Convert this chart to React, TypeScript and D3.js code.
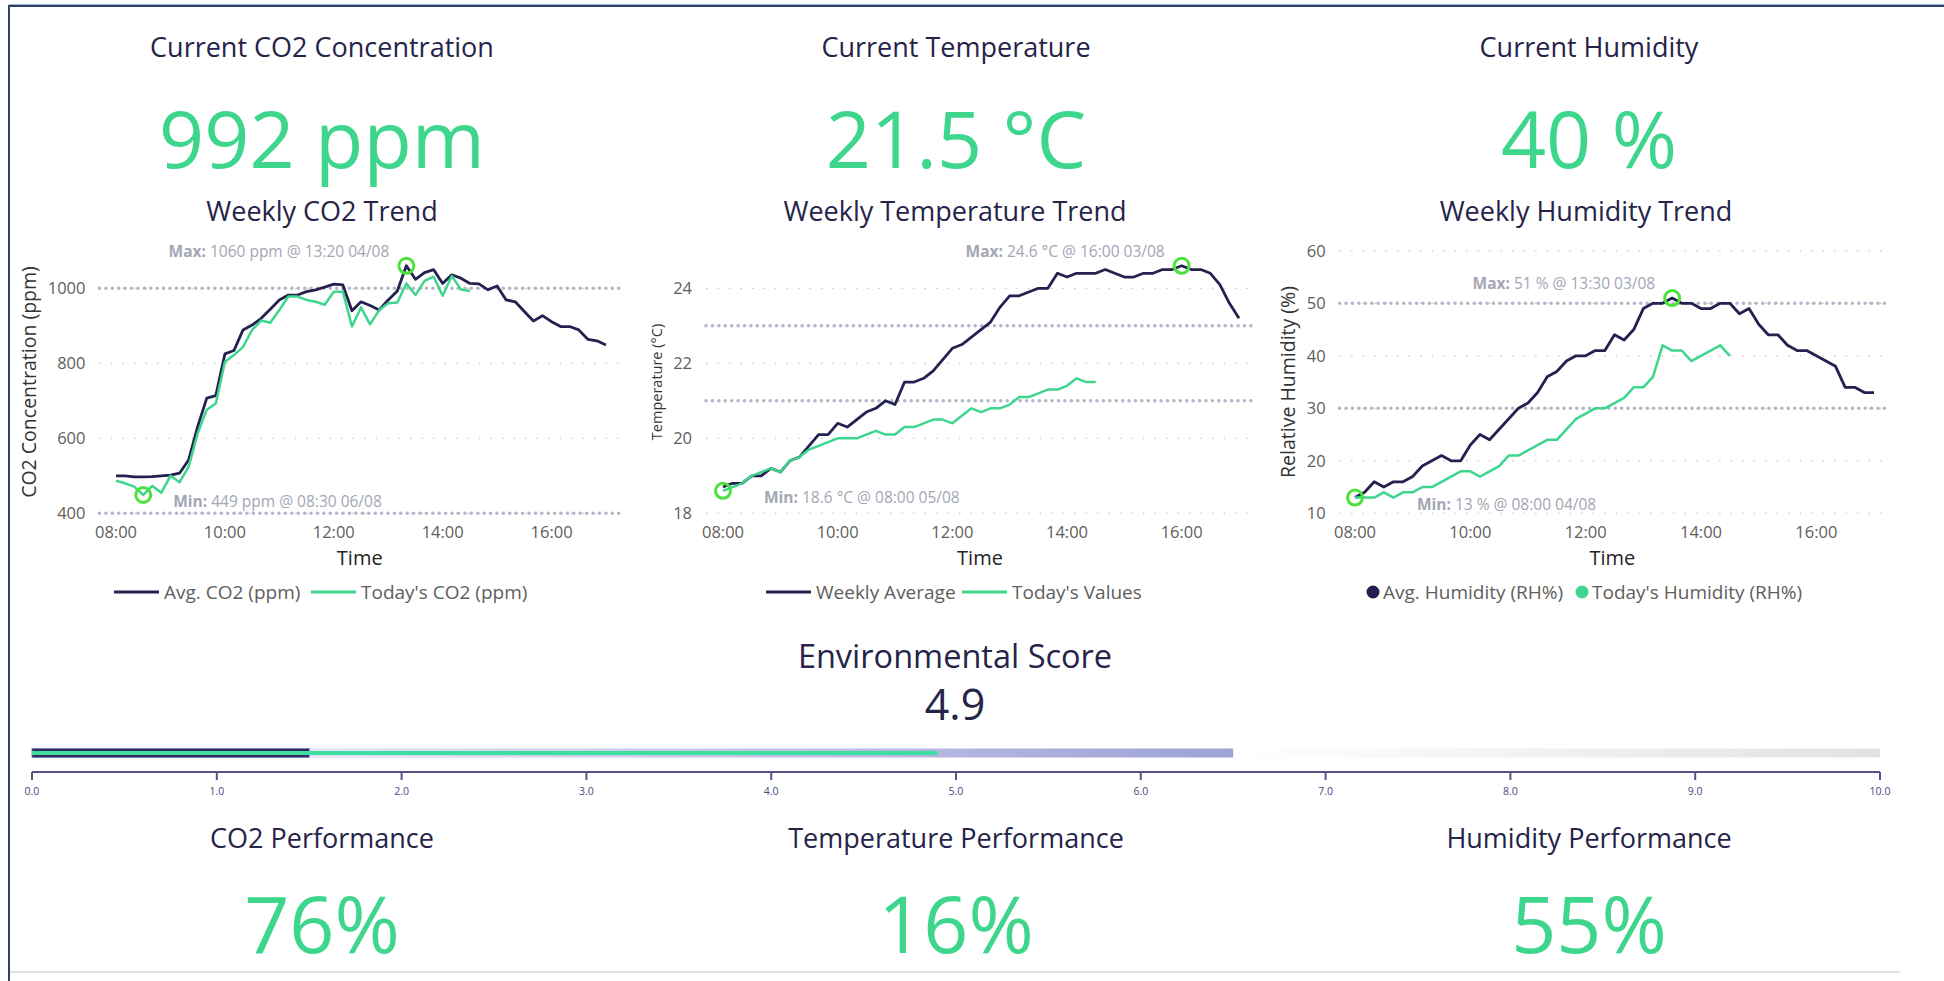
import React from "react";
import * as d3 from "d3";

// time axis (10 minute samples)
const times = [
  "08:00", "08:10", "08:20", "08:30", "08:40", "08:50", "09:00", "09:10", "09:20", "09:30", "09:40",
  "09:50", "10:00", "10:10", "10:20", "10:30", "10:40", "10:50", "11:00", "11:10", "11:20", "11:30",
  "11:40", "11:50", "12:00", "12:10", "12:20", "12:30", "12:40", "12:50", "13:00", "13:10", "13:20",
  "13:30", "13:40", "13:50", "14:00", "14:10", "14:20", "14:30", "14:40", "14:50", "15:00", "15:10",
  "15:20", "15:30", "15:40", "15:50", "16:00", "16:10", "16:20", "16:30", "16:40", "16:50", "17:00",
];

const co2Avg = [
  500, 500, 497, 497, 498, 500, 502, 507, 542, 631, 707, 714, 825, 834, 889, 902, 920, 944, 969, 982,
  982, 991, 996, 1003, 1011, 1009, 940, 964, 954, 942, 969, 993, 1060, 1024, 1042, 1050, 1013, 1036, 1027, 1013,
  1012, 996, 1006, 969, 964, 938, 913, 927, 911, 898, 898, 889, 864, 860, 849,
];
const co2Today = [
  487, 480, 471, 449, 473, 455, 500, 483, 524, 613, 676, 693, 804, 822, 844, 889, 914, 908, 942, 978,
  978, 969, 964, 956, 991, 991, 898, 949, 904, 942, 960, 962, 1013, 982, 1020, 1031, 980, 1033, 997, 993,
];

const tempAvg = [
  18.7, 18.8, 18.8, 19.0, 19.0, 19.2, 19.1, 19.4, 19.5, 19.8, 20.1, 20.1, 20.4, 20.3, 20.5, 20.7, 20.8, 21.0, 20.9, 21.5,
  21.5, 21.6, 21.8, 22.1, 22.4, 22.5, 22.7, 22.9, 23.1, 23.5, 23.8, 23.8, 23.9, 24.0, 24.0, 24.4, 24.3, 24.4, 24.4, 24.4,
  24.5, 24.4, 24.3, 24.3, 24.4, 24.4, 24.5, 24.5, 24.6, 24.5, 24.5, 24.4, 24.1, 23.6, 23.2,
];
const tempToday = [
  18.6, 18.7, 18.8, 19.0, 19.1, 19.2, 19.1, 19.4, 19.5, 19.7, 19.8, 19.9, 20.0, 20.0, 20.0, 20.1, 20.2, 20.1, 20.1, 20.3,
  20.3, 20.4, 20.5, 20.5, 20.4, 20.6, 20.8, 20.7, 20.8, 20.8, 20.9, 21.1, 21.1, 21.2, 21.3, 21.3, 21.4, 21.6, 21.5, 21.5,
];

const humAvg = [
  13, 14, 16, 15, 16, 16, 17, 19, 20, 21, 20, 20, 23, 25, 24, 26, 28, 30, 31, 33,
  36, 37, 39, 40, 40, 41, 41, 44, 43, 45, 49, 50, 50, 51, 50, 50, 49, 49, 50, 50,
  48, 49, 46, 44, 44, 42, 41, 41, 40, 39, 38, 34, 34, 33, 33,
];
const humToday = [
  13, 13, 13, 14, 13, 14, 14, 15, 15, 16, 17, 18, 18, 17, 18, 19, 21, 21, 22, 23,
  24, 24, 26, 28, 29, 30, 30, 31, 32, 34, 34, 36, 42, 41, 41, 39, 40, 41, 42, 40,
];

const kpiTitles = ["Current CO2 Concentration", "Current Temperature", "Current Humidity"];
const kpiValues = ["992 ppm", "21.5 °C", "40 %"];
const perfTitles = ["CO2 Performance", "Temperature Performance", "Humidity Performance"];
const perfValues = ["76%", "16%", "55%"];

const scoreBands = [6.5, 10];
const scoreBase = 1.5;
const scoreValue = 4.9;
const scoreTicks = [0, 1, 2, 3, 4, 5, 6, 7, 8, 9, 10];

const FONT = "'Open Sans', 'Noto Sans', sans-serif";
const NAVY = "#23214f";
const GREEN = "#3dd68c";
const RING = "#4be23c";
const TITLE = "#252449";
const GREY = "#605e5c";
const NOTE = "#a3a6b4";

const parse = d3.timeParse("%H:%M");
const fmt = d3.timeFormat("%H:%M");

interface ChartCfg {
  title: string;
  cx: number;
  x0: number;
  x1: number;
  gl: number;
  gr: number;
  yDomain: [number, number];
  yTicks: number[];
  refs: number[];
  yTitle: string;
  yTitleX: number;
  yTitleSize: number;
  avg: number[];
  today: number[];
  legend: string[];
  legendKind: "line" | "dot";
  legendX: number[];
  maxAt: [string, number];
  maxText: string;
  minAt: [string, number];
  minText: string;
  minDx: number;
}

const charts: ChartCfg[] = [
  {
    title: "Weekly CO2 Trend", cx: 322, x0: 116, x1: 606, gl: 99.5, gr: 620,
    yDomain: [400, 1100], yTicks: [400, 600, 800, 1000], refs: [400, 1000],
    yTitle: "CO2 Concentration (ppm)", yTitleX: 29, yTitleSize: 19.5,
    avg: co2Avg, today: co2Today,
    legend: ["Avg. CO2 (ppm)", "Today's CO2 (ppm)"], legendKind: "line", legendX: [114, 311],
    maxAt: ["13:20", 1060], maxText: "1060 ppm @ 13:20 04/08",
    minAt: ["08:30", 449], minText: "449 ppm @ 08:30 06/08", minDx: 30,
  },
  {
    title: "Weekly Temperature Trend", cx: 955, x0: 723, x1: 1239, gl: 706, gr: 1254,
    yDomain: [18, 25], yTicks: [18, 20, 22, 24], refs: [21, 23],
    yTitle: "Temperature (°C)", yTitleX: 657, yTitleSize: 14.5,
    avg: tempAvg, today: tempToday,
    legend: ["Weekly Average", "Today's Values"], legendKind: "line", legendX: [766, 962],
    maxAt: ["16:00", 24.6], maxText: "24.6 °C @ 16:00 03/08",
    minAt: ["08:00", 18.6], minText: "18.6 °C @ 08:00 05/08", minDx: 41,
  },
  {
    title: "Weekly Humidity Trend", cx: 1586, x0: 1355, x1: 1874, gl: 1339.6, gr: 1885,
    yDomain: [10, 60], yTicks: [10, 20, 30, 40, 50, 60], refs: [30, 50],
    yTitle: "Relative Humidity (%)", yTitleX: 1288, yTitleSize: 19.5,
    avg: humAvg, today: humToday,
    legend: ["Avg. Humidity (RH%)", "Today's Humidity (RH%)"], legendKind: "dot", legendX: [1373, 1582],
    maxAt: ["13:30", 51], maxText: "51 % @ 13:30 03/08",
    minAt: ["08:00", 13], minText: "13 % @ 08:00 04/08", minDx: 62,
  },
];

const PLOT_TOP = 250.8;
const PLOT_BOTTOM = 513.3;

function TrendChart({ c }: { c: ChartCfg }) {
  const x = d3.scaleTime().domain([parse("08:00")!, parse("17:00")!]).range([c.x0, c.x1]);
  const y = d3.scaleLinear().domain(c.yDomain).range([PLOT_BOTTOM, PLOT_TOP]);
  const line = d3
    .line<number>()
    .x((_, i) => x(parse(times[i])!))
    .y((d) => y(d));
  const xTicks = x.ticks(d3.timeHour.every(2)!).filter((t) => t <= parse("16:00")!);
  const maxX = x(parse(c.maxAt[0])!);
  const maxY = y(c.maxAt[1]);
  const minX = x(parse(c.minAt[0])!);
  const minY = y(c.minAt[1]);
  const plotMid = (c.gl + c.gr) / 2;

  return (
    <g>
      <text x={c.cx} y={221} textAnchor="middle" fontSize={27} fill={TITLE}>
        {c.title}
      </text>

      {c.yTicks.map((t) => (
        <g key={"g" + t}>
          <line x1={c.gl} x2={c.gr} y1={y(t)} y2={y(t)} stroke="#c8c6c4" strokeWidth={1.2} strokeDasharray="1.5 10" />
          <text x={c.gl - 14} y={y(t)} dy="0.35em" textAnchor="end" fontSize={16.5} fill={GREY}>
            {t}
          </text>
        </g>
      ))}
      {c.refs.map((r) => (
        <line key={"r" + r} x1={c.gl} x2={c.gr} y1={y(r)} y2={y(r)} stroke="#b3b6c6" strokeWidth={3.6}
          strokeLinecap="round" strokeDasharray="0.01 6.4" />
      ))}

      {xTicks.map((t) => (
        <text key={+t} x={x(t)} y={538} textAnchor="middle" fontSize={16.5} fill={GREY}>
          {fmt(t)}
        </text>
      ))}
      <text x={plotMid} y={565} textAnchor="middle" fontSize={20} fill="#252423">
        Time
      </text>
      <text transform={`translate(${c.yTitleX},382) rotate(-90)`} textAnchor="middle" dy="0.35em"
        fontSize={c.yTitleSize} fill="#333">
        {c.yTitle}
      </text>

      <path d={line(c.avg) || ""} fill="none" stroke={NAVY} strokeWidth={2.8} strokeLinejoin="round" />
      <path d={line(c.today) || ""} fill="none" stroke={GREEN} strokeWidth={2.5} strokeLinejoin="round" />

      <circle cx={maxX} cy={maxY} r={7.5} fill="none" stroke={RING} strokeWidth={3} />
      <circle cx={minX} cy={minY} r={7.5} fill="none" stroke={RING} strokeWidth={3} />
      <text x={maxX - 17} y={maxY - 9} textAnchor="end" fontSize={15.5} fill={NOTE}>
        <tspan fontWeight={700}>Max:</tspan> {c.maxText}
      </text>
      <text x={minX + c.minDx} y={minY + 12} fontSize={15.5} fill={NOTE}>
        <tspan fontWeight={700}>Min:</tspan> {c.minText}
      </text>

      {c.legend.map((l, i) => {
        const lx = c.legendX[i];
        const col = i === 0 ? NAVY : GREEN;
        return (
          <g key={l}>
            {c.legendKind === "line" ? (
              <line x1={lx} x2={lx + 45} y1={592} y2={592} stroke={col} strokeWidth={3} />
            ) : (
              <circle cx={lx} cy={592} r={6.5} fill={col} />
            )}
            <text x={c.legendKind === "line" ? lx + 50 : lx + 10} y={592} dy="0.35em" fontSize={19} fill={GREY}>
              {l}
            </text>
          </g>
        );
      })}
    </g>
  );
}

function ScoreBar() {
  const xs = d3.scaleLinear().domain([0, 10]).range([32, 1880]);
  const barY = 748.5;
  const barH = 9;
  return (
    <g>
      <defs>
        <linearGradient id="lav" gradientUnits="userSpaceOnUse" x1={xs(0)} x2={xs(scoreBands[0])} y1={0} y2={0}>
          <stop offset="0%" stopColor="#f6f6fc" />
          <stop offset="100%" stopColor="#9ea2d6" />
        </linearGradient>
        <linearGradient id="gry" gradientUnits="userSpaceOnUse" x1={xs(scoreBands[0])} x2={xs(scoreBands[1])} y1={0} y2={0}>
          <stop offset="0%" stopColor="#ffffff" />
          <stop offset="100%" stopColor="#e2e2e2" />
        </linearGradient>
      </defs>
      <text x={955} y={668} textAnchor="middle" fontSize={32.5} fill={TITLE}>
        Environmental Score
      </text>
      <text x={955} y={720} textAnchor="middle" fontSize={43} fill={TITLE}>
        {scoreValue}
      </text>
      <rect x={xs(scoreBands[0])} y={barY} width={xs(scoreBands[1]) - xs(scoreBands[0])} height={barH} fill="url(#gry)" />
      <rect x={xs(0)} y={barY} width={xs(scoreBands[0]) - xs(0)} height={barH} fill="url(#lav)" />
      <rect x={xs(0)} y={barY} width={xs(scoreBase) - xs(0)} height={barH} fill="#2a2c63" stroke="#7a7db8" strokeWidth={0.8} />
      <rect x={xs(0)} y={barY + 2.5} width={xs(scoreValue) - xs(0)} height={4} fill="#40dca0" />
      <line x1={xs(0)} x2={xs(10)} y1={772} y2={772} stroke="#55538a" strokeWidth={2} />
      {scoreTicks.map((t) => (
        <g key={t}>
          <line x1={xs(t)} x2={xs(t)} y1={772} y2={780} stroke="#55538a" strokeWidth={2} />
          <text x={xs(t)} y={795} textAnchor="middle" fontSize={10.5} fill="#4a4785">
            {t.toFixed(1)}
          </text>
        </g>
      ))}
    </g>
  );
}

export default function App() {
  const colX = [322, 956, 1589];
  return (
    <svg width={1944} height={981} style={{ position: "absolute", left: 0, top: 0, display: "block" }}
      fontFamily={FONT} xmlns="http://www.w3.org/2000/svg">
      <rect width={1944} height={981} fill="#fff" />
      <line x1={9} x2={1944} y1={4.5} y2={4.5} stroke="#9fb2d2" strokeWidth={1} />
      <line x1={9} x2={1944} y1={6} y2={6} stroke="#2e3d6b" strokeWidth={2} />
      <line x1={9} x2={9} y1={5} y2={981} stroke="#2e3d6b" strokeWidth={2} />
      <line x1={10} x2={1900} y1={972} y2={972} stroke="#e1e1e1" strokeWidth={2} />

      {kpiTitles.map((t, i) => (
        <g key={t}>
          <text x={colX[i]} y={57} textAnchor="middle" fontSize={27} fill={TITLE}>
            {t}
          </text>
          <text x={colX[i]} y={168} textAnchor="middle" fontSize={79} fill={GREEN}>
            {kpiValues[i]}
          </text>
        </g>
      ))}

      {charts.map((c) => (
        <TrendChart key={c.title} c={c} />
      ))}

      <ScoreBar />

      {perfTitles.map((t, i) => (
        <g key={t}>
          <text x={colX[i]} y={848} textAnchor="middle" fontSize={27} fill={TITLE}>
            {t}
          </text>
          <text x={colX[i]} y={953} textAnchor="middle" fontSize={79} fill={GREEN}>
            {perfValues[i]}
          </text>
        </g>
      ))}
    </svg>
  );
}
